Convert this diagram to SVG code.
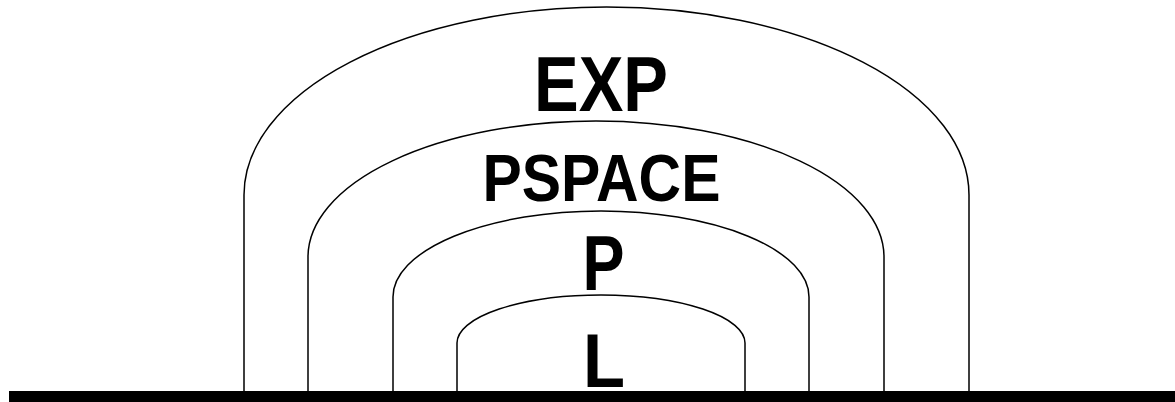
<svg xmlns="http://www.w3.org/2000/svg" width="1175" height="402" viewBox="0 0 1175 402">
  <style>
    .arch { fill: none; stroke: #000; stroke-width: 1.5; }
    .lbl { font-family: "Liberation Sans", "DejaVu Sans", sans-serif; font-weight: bold; fill: #000; text-anchor: middle; }
  </style>
  <rect width="1175" height="402" fill="#fff"/>
  <g id="exp">
    <path class="arch" d="M244,391 L244,195 A362.5,188 0 0 1 969,195 L969,391"/>
    <text class="lbl" x="601" y="111" font-size="78" textLength="134" lengthAdjust="spacingAndGlyphs">EXP</text>
  </g>
  <g id="pspace">
    <path class="arch" d="M308,391 L308,257 A288,136 0 0 1 884,257 L884,391"/>
    <text class="lbl" x="601.5" y="201" font-size="66" textLength="238" lengthAdjust="spacingAndGlyphs">PSPACE</text>
  </g>
  <g id="p">
    <path class="arch" d="M393,391 L393,297 A208,86 0 0 1 809,297 L809,391"/>
    <text class="lbl" x="603.5" y="290" font-size="78" textLength="42" lengthAdjust="spacingAndGlyphs">P</text>
  </g>
  <g id="l">
    <path class="arch" d="M457,391 L457,343 A144,48 0 0 1 745,343 L745,391"/>
    <text class="lbl" x="604" y="387" font-size="76" textLength="42" lengthAdjust="spacingAndGlyphs">L</text>
  </g>
  <g id="base">
    <rect x="9" y="391" width="1166" height="11" fill="#000"/>
  </g>
</svg>
